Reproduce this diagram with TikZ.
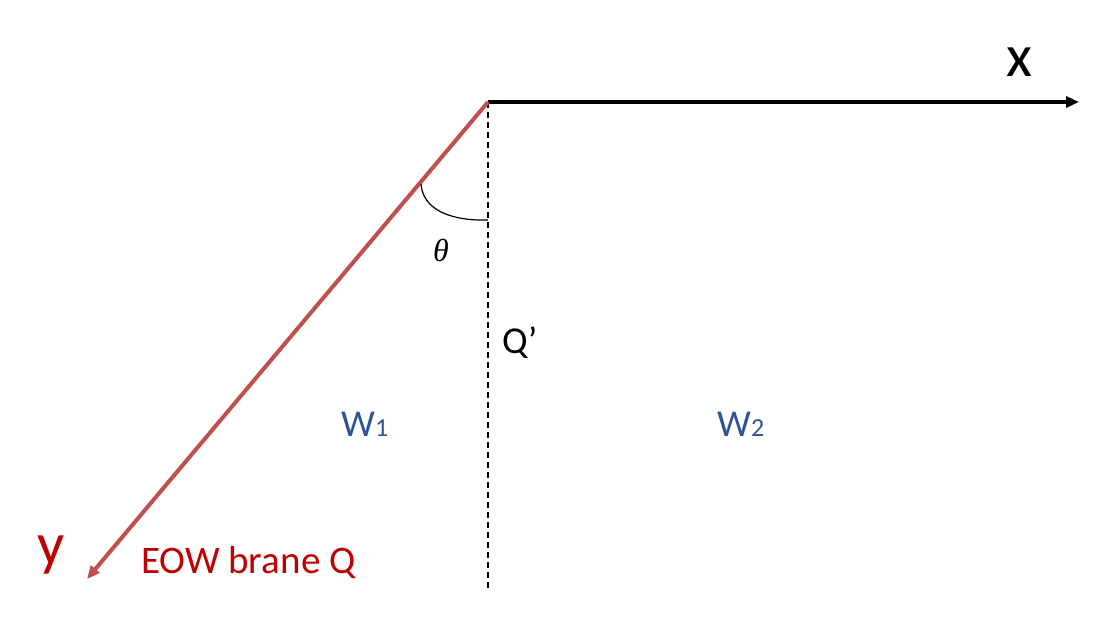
\documentclass[tikz,border=0pt]{standalone}
\usepackage{fontspec}
\setmainfont{Carlito}
\newfontfamily\thetafont{Liberation Serif}
\usetikzlibrary{arrows.meta}
\definecolor{branered}{RGB}{192,80,77}
\definecolor{textred}{RGB}{192,0,0}
\definecolor{wblue}{RGB}{47,85,151}
\tikzset{
  lbl/.style={inner sep=0pt, anchor=base west},
  axis/.style={line width=3.5pt, -{Triangle[length=13pt,width=11pt]}},
}
\begin{document}
\begin{tikzpicture}[x=1pt,y=-1pt]
\useasboundingbox (0,0) rectangle (1099,620);
\coordinate (O) at (488,102);
\coordinate (Xend) at (1079,102);
\coordinate (Yend) at (87,579);
\coordinate (D) at (488,590);
\coordinate (A1) at (421,184);
\coordinate (A2) at (488,220);
\draw[line width=2pt, dash pattern=on 6pt off 4pt] (O) -- (D);
\draw[axis, black] (O) -- (Xend);
\draw[axis, branered, line width=4pt] (O) -- (Yend);
\draw[line width=1.2pt] (A1) .. controls (423,211) and (453,221) .. (A2);
\node[lbl, font=\fontsize{60}{60}\selectfont] (xl) at (1006,77) {x};
\node[lbl, font=\fontsize{60}{60}\selectfont, text=textred] (yl) at (37,564) {y};
\node[lbl, font=\fontsize{39}{39}\selectfont, text=textred] (eow) at (141,573) {EOW brane Q};
\node[lbl, font=\fontsize{38}{38}\selectfont] (qp) at (502,353) {Q’};
\node[lbl, font=\fontsize{38}{38}\selectfont, text=wblue] (w1) at (341,436) {W{\fontsize{26}{26}\selectfont 1}};
\node[lbl, font=\fontsize{38}{38}\selectfont, text=wblue] (w2) at (717,436) {W{\fontsize{26}{26}\selectfont 2}};
\node[inner sep=0pt, font=\thetafont\itshape\fontsize{32}{32}\selectfont] (th) at (441,250) {θ};
\end{tikzpicture}
\end{document}
